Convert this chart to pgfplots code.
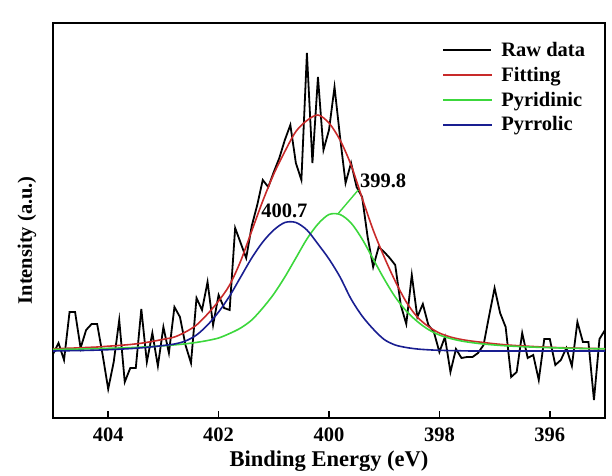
\documentclass[border=0pt]{standalone}
\usepackage{fontspec}
\setmainfont{Liberation Serif}
\usepackage{pgfplots}
\pgfplotsset{compat=1.18}

\definecolor{fitred}{RGB}{200,42,42}
\definecolor{pygreen}{RGB}{60,215,60}
\definecolor{pyblue}{RGB}{25,30,145}

\newcommand{\lblfont}{\bfseries\fontsize{20.5}{24}\selectfont}

\begin{document}
\begin{tikzpicture}
\begin{axis}[
  width=552pt, height=395pt, scale only axis,
  xmin=395, xmax=405, x dir=reverse,
  ymin=-67, ymax=328,
  xtick={396,398,400,402,404}, ytick=\empty,
  xtick pos=left, tick align=inside, major tick length=7pt,
  axis line style={line width=1.5pt},
  every tick/.style={black, line width=1.5pt},
  /pgf/number format/assume math mode=true,
  tick label style={font=\lblfont},
  xticklabel style={yshift=-6pt},
  xlabel={Binding Energy (eV)},
  xlabel style={font=\bfseries\fontsize{22.5}{26}\selectfont, at={(axis description cs:0.5,0)}, anchor=north, yshift=-29pt},
  ylabel={Intensity (a.u.)},
  ylabel style={font=\lblfont, at={(axis description cs:-0.047,0.45)}, anchor=center},
  legend style={at={(axis description cs:0.705,0.956)}, anchor=north west, draw=none, fill=none,
    font=\lblfont, row sep=5pt, column sep=7pt, inner sep=0pt, cells={anchor=west}},
  legend image code/.code={\draw[#1, line width=2pt] plot coordinates {(0pt,0pt) (24pt,0pt) (48pt,0pt)};},
]
% raw spectrum, baseline at 0
\addplot[black, line width=1.8pt] table {
405.0 -3
404.9 8
404.8 -9
404.7 39
404.6 39
404.5 3
404.4 21
404.3 27
404.2 27
404.1 -4
404.0 -38
403.9 -11
403.8 31
403.7 -31
403.6 -17
403.5 -17
403.4 42
403.3 -11
403.2 18
403.1 -15
403.0 24
402.9 -2
402.8 44
402.7 34
402.6 6
402.5 -12
402.4 53
402.3 41
402.2 69
402.1 26
402.0 56
401.9 43
401.8 41
401.7 123
401.6 108
401.5 93
401.4 125
401.3 146
401.2 171
401.1 164
401.0 179
400.9 193
400.8 211
400.7 226
400.6 188
400.5 171
400.4 298
400.3 188
400.2 274
400.1 201
400.0 221
399.9 264
399.8 214
399.7 168
399.6 188
399.5 164
399.4 154
399.3 114
399.2 84
399.1 104
399.0 99
398.9 93
398.8 86
398.7 46
398.6 27
398.5 76
398.4 34
398.3 47
398.2 26
398.1 19
398.0 -1
397.9 14
397.8 -21
397.7 2
397.6 -7
397.5 -6
397.4 -6
397.3 -2
397.2 6
397.1 35
397.0 63
396.9 38
396.8 24
396.7 -26
396.6 -21
396.5 18
396.4 -7
396.3 -4
396.2 -29
396.1 12
396.0 12
395.9 -14
395.8 -9
395.7 3
395.6 -15
395.5 29
395.4 9
395.3 9
395.2 -49
395.1 12
395.0 21
};
\addlegendentry{Raw data}

\addplot[fitred, line width=1.6pt, smooth] table {
405.0 2.2
404.8 2.6
404.6 3.0
404.4 3.5
404.2 4.0
404.0 4.8
403.8 5.6
403.6 6.5
403.4 7.8
403.2 9.6
403.0 11.7
402.8 14
402.6 19
402.4 26
402.2 37
402.0 50
401.8 66
401.6 90
401.4 120
401.2 150
401.0 177
400.8 199.5
400.6 219.5
400.4 230.5
400.2 236
400.0 228
399.8 211
399.6 186
399.4 153
399.2 121
399.0 94
398.8 69.8
398.6 49
398.4 34
398.2 24.5
398.0 18
397.8 14
397.6 11.5
397.4 9.8
397.2 8.5
397.0 7.2
396.8 6.2
396.6 5.4
396.4 4.8
396.2 4.2
396.0 3.7
395.8 3.3
395.6 3.0
395.4 2.7
395.2 2.5
395.0 2.3
};
\addlegendentry{Fitting}

\addplot[pygreen, line width=1.6pt, smooth] table {
405.0 1.5
404.8 1.7
404.6 1.9
404.4 2.1
404.2 2.4
404.0 2.7
403.8 3.0
403.6 3.4
403.4 3.9
403.2 4.5
403.0 5.2
402.8 6.1
402.6 7.2
402.4 8.6
402.2 10.5
402.0 13
401.8 17.5
401.6 23
401.4 31
401.2 43
401.0 57
400.8 74
400.6 93
400.4 112
400.2 127
400.0 136.5
399.8 136.5
399.6 128
399.4 112
399.2 92
399.0 72
398.8 54
398.6 40
398.4 29.5
398.2 21.5
398.0 16
397.8 12.5
397.6 10
397.4 8.3
397.2 7
397.0 6
396.8 5.2
396.6 4.6
396.4 4.1
396.2 3.7
396.0 3.3
395.8 3.0
395.6 2.7
395.4 2.5
395.2 2.3
395.0 2.1
};
\addlegendentry{Pyridinic}

\addplot[pyblue, line width=1.6pt, smooth] table {
405.0 0
404.8 0.2
404.6 0.4
404.4 0.6
404.2 0.9
404.0 1.3
403.8 1.8
403.6 2.4
403.4 3.2
403.2 4.2
403.0 5.5
402.8 7
402.6 10
402.4 16
402.2 26
402.0 39
401.8 55
401.6 74
401.4 93
401.2 109
401.0 121
400.8 128.5
400.6 128.5
400.4 121
400.2 107
400.0 92
399.8 74
399.6 52
399.4 35
399.2 22
399.0 11.5
398.8 6
398.6 3.5
398.4 2
398.2 1.2
398.0 0.7
397.8 0.4
397.6 0.2
397.4 0
397.0 0
396.0 0
395.0 0
};
\addlegendentry{Pyrrolic}

% leader for the pyridinic peak label
\addplot[pygreen, line width=1.4pt, forget plot] coordinates {(399.83,137.7) (399.47,161)};
\node[anchor=base west, inner sep=0pt, font=\lblfont] at (axis cs:399.44,164) {399.8};
\node[anchor=base west, inner sep=0pt, font=\lblfont] at (axis cs:401.23,133.7) {400.7};

\coordinate (sw) at (rel axis cs:0,0);
\coordinate (ne) at (rel axis cs:1,1);
\end{axis}
\pgfresetboundingbox
\path[use as bounding box] ([xshift=-53pt,yshift=-57pt]sw) rectangle ([xshift=7pt,yshift=23pt]ne);
\end{tikzpicture}
\end{document}
